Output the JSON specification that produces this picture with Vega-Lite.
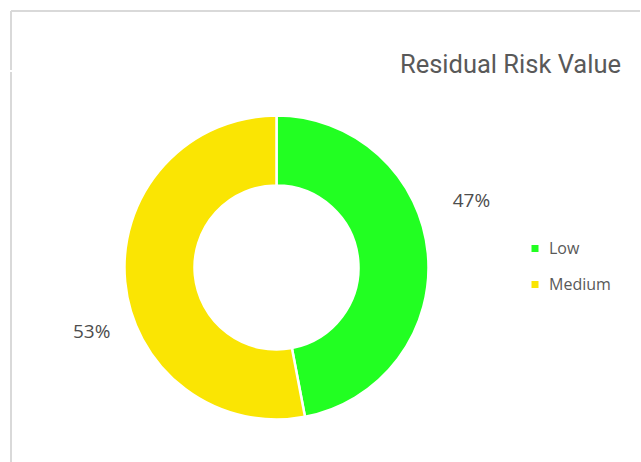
{
  "$schema": "https://vega.github.io/schema/vega-lite/v6.json",
  "autosize": {"type": "pad"},
  "padding": {"left": 10, "top": 10, "right": 0, "bottom": 0},
  "background": "white",
  "title": {
    "text": "Residual Risk Value",
    "anchor": "end",
    "frame": "bounds",
    "orient": "top",
    "offset": 0,
    "baseline": "alphabetic",
    "dx": -20,
    "dy": 88,
    "font": "Roboto",
    "fontSize": 25.5,
    "fontWeight": "normal",
    "color": "#595959"
  },
  "spacing": 0,
  "vconcat": [
    {
      "width": 629,
      "height": 59,
      "view": {"stroke": "#d9d9d9", "strokeWidth": 2, "strokeDash": [629, 688, 59, 0]},
      "data": {"values": []},
      "mark": "point",
      "encoding": {}
    },
    {
      "width": 531,
      "height": 391,
      "view": {"stroke": "#d9d9d9", "strokeWidth": 2, "strokeDash": [0, 1443, 401, 0]},
      "data": {
        "values": [
          {"category": "Low", "value": 47, "label": "47%"},
          {"category": "Medium", "value": 53, "label": "53%"}
        ]
      },
      "layer": [
        {
          "mark": {"type": "arc", "outerRadius": 152, "innerRadius": 82, "stroke": "white", "strokeWidth": 2.5},
          "encoding": {
            "theta": {"field": "value", "type": "quantitative", "stack": true},
            "color": {
              "field": "category",
              "type": "nominal",
              "scale": {"domain": ["Low", "Medium"], "range": ["#22FF22", "#FAE503"]},
              "legend": {
                "orient": "none",
                "legendX": 516,
                "legendY": 229.5,
                "title": null,
                "padding": 0,
                "symbolType": "square",
                "symbolSize": 49,
                "symbolStrokeWidth": 0,
                "symbolOpacity": 1,
                "labelFont": "Open Sans",
                "labelFontSize": 16,
                "labelColor": "#595959",
                "labelOffset": 6,
                "rowPadding": 20
              }
            }
          }
        },
        {
          "mark": {"type": "text", "radius": 201, "thetaOffset": -0.24, "dx": 5, "dy": -1, "font": "Open Sans", "fontSize": 19, "color": "#4d4d4d", "baseline": "middle", "align": "center"},
          "encoding": {
            "theta": {"field": "value", "type": "quantitative", "stack": true},
            "detail": {"field": "category", "type": "nominal"},
            "text": {"field": "label", "type": "nominal"}
          }
        }
      ]
    }
  ]
}
